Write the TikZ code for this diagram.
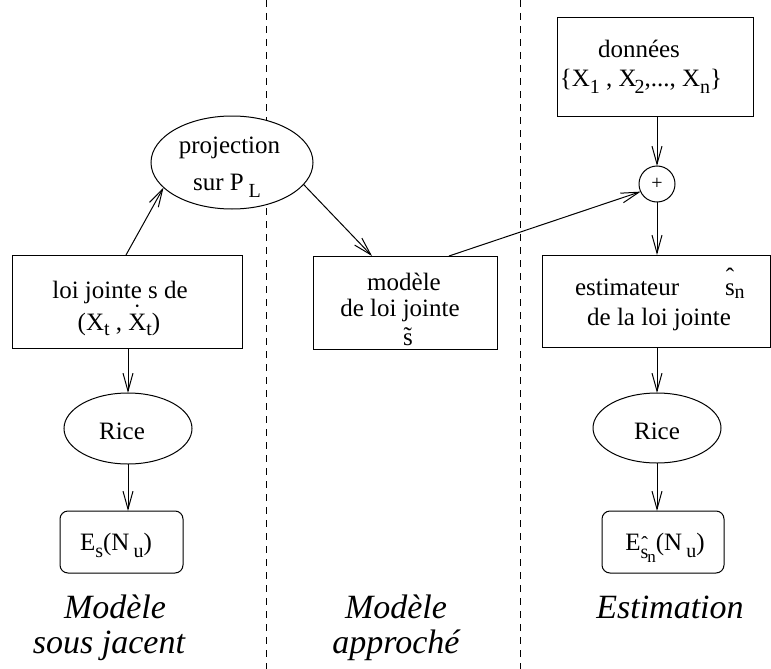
\documentclass[tikz,border=0pt]{standalone}
\usepackage{fontspec}
\setmainfont{Liberation Serif}
\usetikzlibrary{shapes.geometric,arrows.meta,calc}

% lowered, slightly smaller index text
\newcommand\lowidx[2][6pt]{\raisebox{-#1}{\fontsize{20}{20}\selectfont #2}}
% accents set by hand above a letter
\newcommand\hatted[2][10pt]{\makebox[0pt][l]{\hspace{0.8pt}\raisebox{#1}{ˆ}}#2}
\newcommand\tilded[1]{\makebox[0pt][l]{\hspace{0.6pt}\raisebox{0.5pt}{˜}}#1}
\newcommand\dotted[1]{\makebox[0pt][l]{\hspace{4.8pt}\raisebox{9pt}{˙}}#1}

\begin{document}
\begin{tikzpicture}[x=1pt,y=-1pt,
  every node/.style={font=\fontsize{25}{30}\selectfont, inner sep=0pt, outer sep=0pt},
  boxnode/.style={draw, line width=1pt, fill=white, rectangle},
  roundbox/.style={boxnode, rounded corners=8pt},
  oval/.style={ellipse, draw, line width=1pt, fill=white},
  txt/.style={anchor=base},
  arr/.style={line width=1pt, -{Straight Barb[length=18pt,width=10pt,line width=1pt]}},
  sepline/.style={line width=1pt, dash pattern=on 7pt off 6pt},
  coltitle/.style={anchor=base, font=\fontsize{34}{40}\selectfont\itshape}]

\useasboundingbox (0,0) rectangle (771,669);

% column separators
\draw[sepline] (266,0) -- (266,669);
\draw[sepline] (520,0) -- (520,669);

% ---- shapes ----
\node[boxnode, minimum width=230pt, minimum height=93pt] (loi) at (127,301.5) {};
\node[oval, minimum width=162pt, minimum height=93pt] (proj) at (232,162.5) {};
\node[boxnode, minimum width=184pt, minimum height=93pt] (mod) at (405,302.5) {};
\node[boxnode, minimum width=196pt, minimum height=98pt] (don) at (655,67) {};
\node[circle, draw, line width=1pt, fill=white, minimum size=36pt,
      font=\fontsize{20}{20}\selectfont] (plus) at (657,184) {+};
\node[boxnode, minimum width=228pt, minimum height=92pt] (est) at (656,301) {};
\node[oval, minimum width=128pt, minimum height=71pt] (riceL) at (128,428.5) {};
\node[oval, minimum width=128pt, minimum height=70pt] (riceR) at (657,428) {};
\node[roundbox, minimum width=123pt, minimum height=62pt] (eL) at (121.5,542) {};
\node[roundbox, minimum width=122pt, minimum height=62pt] (eR) at (663,542) {};

% ---- texts ----
\node[txt] (projT1) at (229.5,153) {projection};
\node[txt] (projT2) at (227,190) {sur P\hspace{5pt}\lowidx[7pt]{L}};

\node[txt] (loiT1) at (120,298) {loi jointe s de};
\node[txt] (loiT2) at (119,330) {(X\lowidx[5pt]{t} , \dotted{X}\lowidx[5pt]{t})};

\node[txt] (modT1) at (404,290) {modèle};
\node[txt] (modT2) at (400,316) {de loi jointe};
\node[txt] (modT3) at (408,345) {\tilded{s}};

\node[txt] (donT1) at (639,58) {données};
\node[txt] (donT2) at (641,87) {\{X\lowidx{1} , X\kern-2pt\lowidx{2},..., X\lowidx{n}\}};

\node[txt, anchor=base west] (estT1) at (575,295) {estimateur};
\node[txt, anchor=base west] (estT2) at (725,295) {\hatted{s}\lowidx[3pt]{n}};
\node[txt] (estT3) at (659,325) {de la loi jointe};

\node[txt] (riceLT) at (122,439) {Rice};
\node[txt] (riceRT) at (657,439) {Rice};

\node[txt] (eLT) at (116,550) {E\lowidx[7pt]{s}(N\,\lowidx[7pt]{u})};
\node[txt] (eRT) at (665,550) {E\lowidx[8pt]{\hatted[8pt]{s}\kern-1pt\raisebox{-4pt}{\fontsize{17}{17}\selectfont n}}(N\,\lowidx[7pt]{u})};

% column titles
\node[coltitle] (t1a) at (115,618) {Modèle};
\node[coltitle] (t1b) at (109,653) {sous jacent};
\node[coltitle] (t2a) at (396,618) {Modèle};
\node[coltitle] (t2b) at (396,653) {approché};
\node[coltitle] (t3a) at (670,618) {Estimation};

% ---- connectors ----
\draw[arr] ($(loi.north)+(-1,0)$) -- (proj.200.4);
\draw[arr] (proj.-17.6) -- ($(mod.north west)+(59,0)$);
\draw[arr] ($(mod.north west)+(136,0)$) -- (plus.205.3);
\draw[arr] (plus.north |- don.south) -- (plus.north);
\draw[arr] (plus.south) -- (plus.south |- est.north);
\draw[arr] (riceL.north |- loi.south) -- (riceL.north);
\draw[arr] (riceL.south) -- (riceL.south |- eL.north);
\draw[arr] (riceR.north |- est.south) -- (riceR.north);
\draw[arr] (riceR.south) -- (riceR.south |- eR.north);

\end{tikzpicture}
\end{document}
